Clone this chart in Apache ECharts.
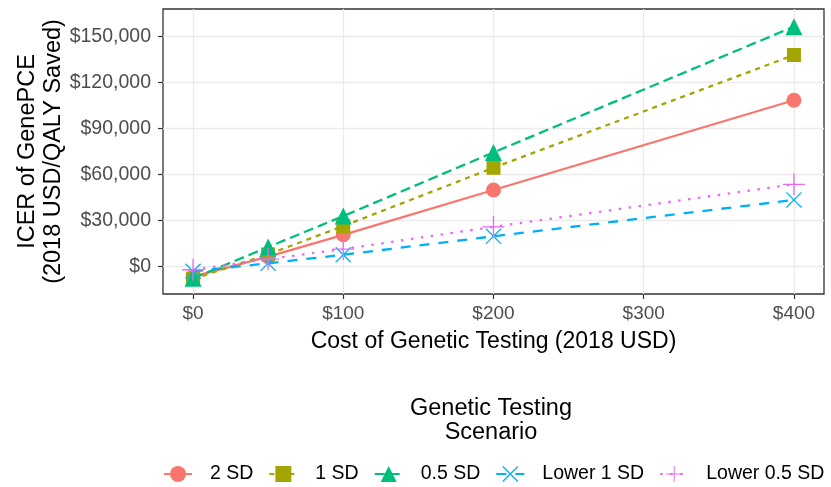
<!DOCTYPE html>
<html>
<head>
<meta charset="utf-8">
<script src="https://cdn.jsdelivr.net/npm/echarts@6/dist/echarts.min.js"></script>
<style>html,body{margin:0;padding:0;background:#fff}#c{width:831px;height:487px}</style>
</head>
<body>
<div id="c"></div>
<script>
const costs = [0, 50, 100, 200, 400];
const sd2 = [-6500, 6500, 20800, 50000, 108500];
const sd1 = [-8000, 8000, 26500, 64500, 138000];
const sd05 = [-7500, 12800, 33000, 74500, 156500];
const lower1 = [-3000, 2200, 7800, 19800, 43500];
const lower05 = [-2000, 5000, 11500, 26000, 53700];
const seriesNames = ['2 SD', '1 SD', '0.5 SD', 'Lower 1 SD', 'Lower 0.5 SD'];
const xTicks = [0, 100, 200, 300, 400];
const yTicks = [0, 30000, 60000, 90000, 120000, 150000];

const FONT = 'Liberation Sans';
const colors = ['#F8766D', '#A3A500', '#00BF7D', '#00B0F6', '#E76BF3'];
const values = [sd2, sd1, sd05, lower1, lower05];
const symbols = [
  'circle', 'rect', 'triangle',
  'path://M0,0.9L0.9,0L16,15.1L15.1,16Z M15.1,0L16,0.9L0.9,16L0,15.1Z',
  'path://M10.35,0h1.3v22h-1.3z M0,10.35h22v1.3h-22z'
];
const sizes = [15, 14, 17, 16, 22];
const dashes = ['solid', [5, 5], [10, 5], [10, 9], [2.5, 7.5]];

const chart = echarts.init(document.getElementById('c'), null, {renderer: 'canvas'});
const money = v => '$' + Math.round(v).toLocaleString('en-US');

const series = seriesNames.map((name, i) => ({
  name: name,
  type: 'line',
  data: costs.map((c, j) => [c, values[i][j]]),
  symbol: symbols[i],
  symbolSize: sizes[i],
  showAllSymbol: true,
  animation: false,
  z: 2 + i,
  itemStyle: {color: colors[i], opacity: 1},
  lineStyle: {color: colors[i], width: 2.3, type: dashes[i]},
  emphasis: {disabled: true}
}));

chart.setOption({
  animation: false,
  grid: {left: 163, right: 7, top: 9, bottom: 193, show: true, borderColor: '#333333', borderWidth: 1.3, backgroundColor: '#fff', z: 0},
  xAxis: {
    type: 'value', min: -20, max: 420,
    name: 'Cost of Genetic Testing (2018 USD)',
    nameLocation: 'middle', nameGap: 36, nameMoveOverlap: false,
    nameTextStyle: {fontFamily: FONT, fontSize: 23, color: '#000'},
    axisLine: {show: false, onZero: false},
    axisTick: {show: true, length: 5, lineStyle: {color: '#333333', width: 1.2}, customValues: xTicks},
    axisLabel: {fontFamily: FONT, fontSize: 19, color: '#4D4D4D', margin: 10, customValues: xTicks, formatter: money},
    splitLine: {show: true, lineStyle: {color: '#EBEBEB', width: 1.3}}
  },
  yAxis: {
    type: 'value', min: -17800, max: 168000,
    name: 'ICER of GenePCE\n(2018 USD/QALY Saved)',
    nameLocation: 'middle', nameRotate: 90, nameGap: 96, nameMoveOverlap: false,
    nameTextStyle: {fontFamily: FONT, fontSize: 23.5, color: '#000', lineHeight: 26, align: 'center'},
    axisLine: {show: false, onZero: false},
    axisTick: {show: true, length: 5, lineStyle: {color: '#333333', width: 1.2}, customValues: yTicks},
    axisLabel: {fontFamily: FONT, fontSize: 19.5, color: '#4D4D4D', margin: 12, customValues: yTicks, formatter: money},
    splitLine: {show: true, lineStyle: {color: '#EBEBEB', width: 1.3}}
  },
  legend: {
    left: 163, top: 464, width: 668, padding: 0, orient: 'horizontal',
    itemWidth: 28, itemHeight: 20, itemGap: 15,
    textStyle: {fontFamily: FONT, fontSize: 19.5, color: '#000', padding: [0, 0, 0, 13]},
    data: seriesNames
  },
  graphic: [{
    type: 'text', left: 491 - 100, top: 397,
    style: {text: 'Genetic Testing\nScenario', x: 0, y: 0, width: 200, align: 'center', textAlign: 'center',
      font: '23.5px "' + FONT + '"', fill: '#000', lineHeight: 24}
  }],
  series: series
});
</script>
</body>
</html>
